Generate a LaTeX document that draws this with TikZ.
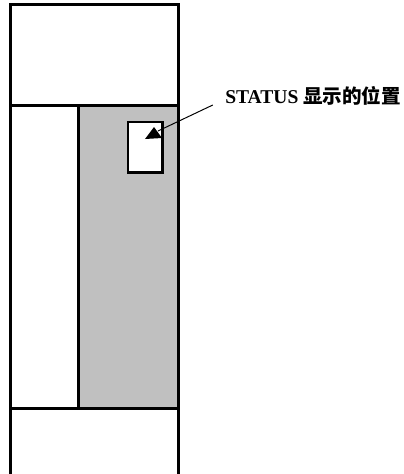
\documentclass[tikz,border=0pt]{standalone}
\usepackage{fontspec}
\setmainfont{Liberation Serif}
\newfontfamily\cjk{Noto Sans CJK SC}
\usepackage{xcolor}
\usetikzlibrary{positioning}
\definecolor{panelgray}{RGB}{192,192,192}
\tikzset{
    frameline/.style={draw=black, line width=1.6pt},
    pointerline/.style={draw=black, line width=0.7pt}
}

\begin{document}
\begin{tikzpicture}[font=\bfseries]
\useasboundingbox (0,0) rectangle (10.1,11.85);

% 灰色面板
\fill[panelgray] (1.95,1.65) rectangle (4.4625,9.225);

% 外框
\draw[frameline] (0.2625,0) -- (0.2625,11.7375) -- (4.4625,11.7375) -- (4.4625,0);
\draw[frameline] (0.2625,9.21) -- (4.4625,9.21);
\draw[frameline] (0.2625,1.635) -- (4.4625,1.635);
\draw[frameline] (1.965,1.65) -- (1.965,9.225);

% 显示窗口
\draw[frameline, fill=white] (3.2,7.535) rectangle (4.0625,8.8);

% 标注
\node[font=\fontsize{13.9}{16}\bfseries, anchor=west, inner sep=0pt] (statuslabel) at (5.625,9.45) {STATUS {\cjk 显示的位置}};
\coordinate (linestart) at (5.32,9.225);
\coordinate (lineend) at (3.95,8.575);
\draw[pointerline] (linestart) -- (lineend);
\fill[black] (3.625,8.375) -- (3.85,8.675) -- (4.05,8.4) -- cycle;

\end{tikzpicture}
\end{document}
